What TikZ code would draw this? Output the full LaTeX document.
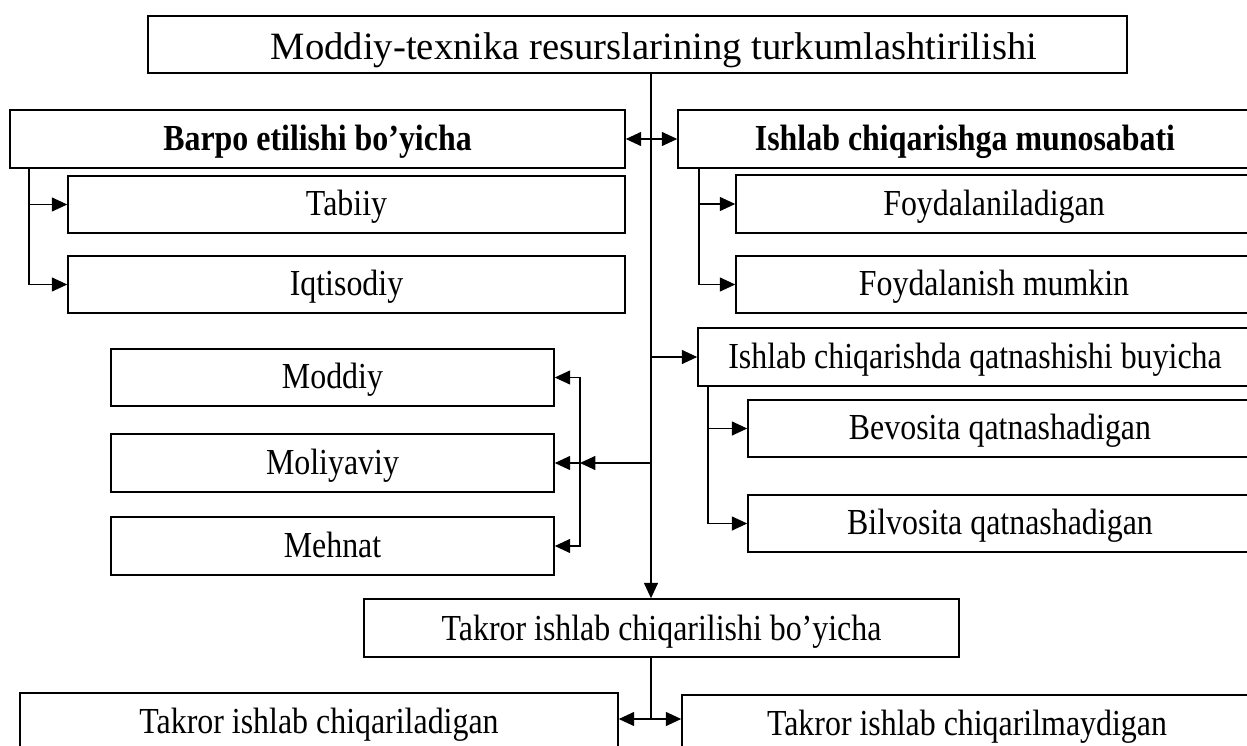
\documentclass[tikz,border=0pt]{standalone}
\usepackage{fontspec}
\setmainfont{Liberation Serif}
\newfontfamily\bodyfont[FakeStretch=0.87]{Liberation Serif}
\usetikzlibrary{arrows.meta}
\begin{document}
\begin{tikzpicture}[x=0.75pt,y=-0.75pt,
  bx/.style 2 args={draw, line width=1.2pt, minimum width=#1*0.75pt, minimum height=#2*0.75pt,
    inner sep=0pt, text height=17pt, text depth=0pt, font=\bodyfont\fontsize{27.5pt}{32pt}\selectfont},
  ln/.style={line width=0.9pt},
  tip/.style={},
  arr/.style={ln, -{Triangle[length=11.5pt,width=10.5pt]}},
  darr/.style={ln, {Triangle[length=11.5pt,width=10.5pt]}-{Triangle[length=11.5pt,width=10.5pt]}}]
\useasboundingbox (0,0) rectangle (1247,746);
\clip (0,0) rectangle (1247,746);
% boxes
\node[bx={979}{57}, text height=23pt, font=\fontsize{29pt}{34pt}\selectfont] (title) at (637.5,44.5)
  {\hspace*{25pt}Moddiy-texnika resurslarining turkumlashtirilishi};
\node[bx={615}{58}] (barpo) at (317.5,139) {\bfseries Barpo etilishi bo’yicha};
\node[bx={574}{58}] (munos) at (965,139) {\bfseries Ishlab chiqarishga munosabati};
\node[bx={557}{57}] (tabiiy) at (346.5,204.5) {Tabiiy};
\node[bx={557}{57}] (iqt) at (346.5,284.5) {Iqtisodiy};
\node[bx={516}{58}] (foyd) at (994,204) {Foydalaniladigan};
\node[bx={516}{57}] (foydm) at (994,284.5) {Foydalanish mumkin};
\node[bx={554}{58}] (qatn) at (975,357) {Ishlab chiqarishda qatnashishi buyicha};
\node[bx={504}{57}] (bev) at (1000,428.5) {Bevosita qatnashadigan};
\node[bx={504}{57}] (bil) at (1000,523.5) {Bilvosita qatnashadigan};
\node[bx={443}{57}] (moddiy) at (332.5,377.5) {Moddiy};
\node[bx={443}{58}] (moliya) at (332.5,463) {Moliyaviy};
\node[bx={443}{58}] (mehnat) at (332.5,546) {Mehnat};
\node[bx={595}{58}, text height=19pt] (takror) at (661.5,628) {Takror ishlab chiqarilishi bo’yicha};
\node[bx={598}{58}] (tbl) at (319,722) {Takror ishlab chiqariladigan};
\node[bx={570}{58}] (tbr) at (967,724) {Takror ishlab chiqarilmaydigan};
% coordinates
\coordinate (tx) at (651,0);
\coordinate (lx) at (29,0);
\coordinate (rx) at (699,0);
\coordinate (sx) at (708,0);
\coordinate (mx) at (580,463);
\coordinate (bj) at (651,719);
% connectors
\draw[arr] (title.south -| tx) -- (takror.north -| tx);
\draw[darr] (barpo.east) -- (munos.west);
\draw[arr] (barpo.south -| lx) |- (tabiiy.west);
\draw[arr] (barpo.south -| lx) |- (iqt.west);
\draw[arr] (munos.south -| rx) |- (foyd.west);
\draw[arr] (munos.south -| rx) |- (foydm.west);
\draw[arr] (qatn.west -| tx) -- (qatn.west);
\draw[arr] (qatn.south -| sx) |- (bev.west);
\draw[arr] (qatn.south -| sx) |- (bil.west);
\draw[arr] (moliya.east -| tx) -- (mx);
\draw[arr] (mx) |- (moddiy.east);
\draw[arr] (mx) -- (moliya.east);
\draw[arr] (mx) |- (mehnat.east);
\draw[ln] (takror.south -| tx) -- (bj);
\draw[darr] (tbl.east |- bj) -- (tbr.west |- bj);
\end{tikzpicture}
\end{document}
